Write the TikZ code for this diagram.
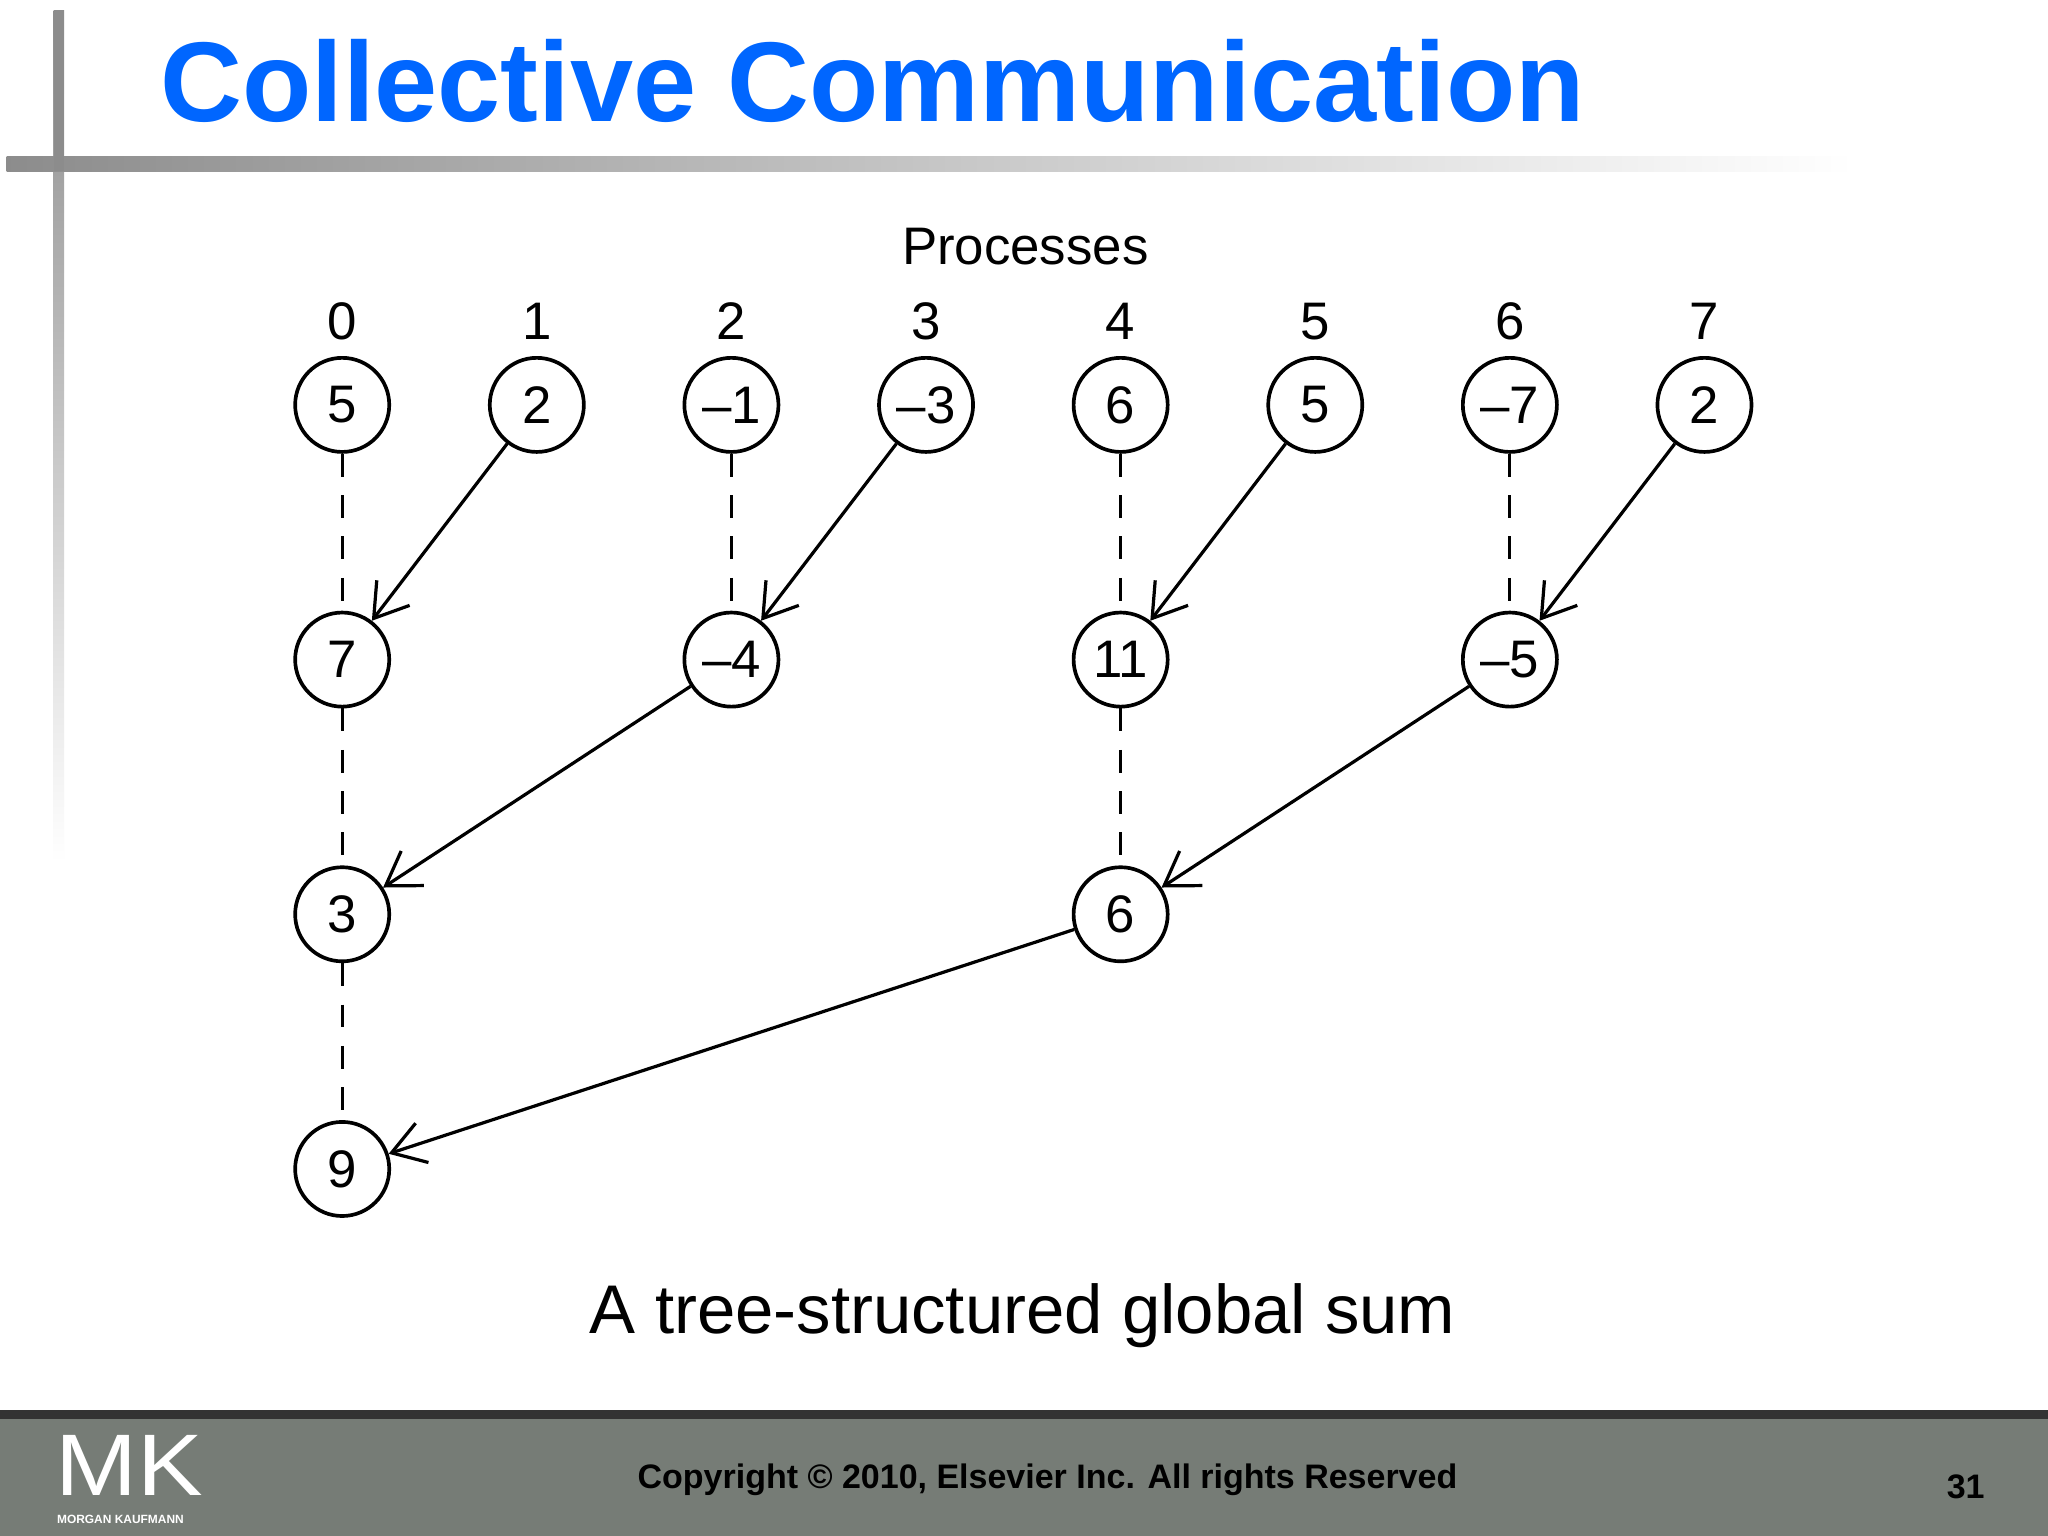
\documentclass[tikz,border=0pt]{standalone}
\usepackage{fontspec}
\setmainfont{Liberation Sans}
\usetikzlibrary{arrows.meta}
\definecolor{titleblue}{RGB}{0,102,255}
\definecolor{footgrey}{RGB}{118,124,118}
\begin{document}
\begin{tikzpicture}[x=0.01cm,y=-0.01cm,
  nd/.style={circle,draw,line width=0.8pt,minimum size=0.72cm,inner sep=0pt,font=\fontsize{11.5}{12}\selectfont},
  lbl/.style={font=\fontsize{11.5}{12}\selectfont},
  dsh/.style={line width=0.7pt,dash pattern=on 5pt off 4pt},
  arr/.style={line width=0.7pt,-{Straight Barb[length=7pt,width=9pt]}}]
\useasboundingbox (0,0) rectangle (1568,1176);
\fill[white] (0,0) rectangle (1568,1176);
% decorative bars
\shade[top color=gray!90,bottom color=white] (41,8) rectangle (49,660);
\shade[left color=gray!90,right color=white] (5,120) rectangle (1420,131);
\fill[gray!90] (41,8) rectangle (49,131);
\node[anchor=west,text=titleblue,font=\bfseries,inner sep=0] (title) at (122,62) {\resizebox{10.9cm}{!}{Collective Communication}};
% footer
\fill[footgrey] (0,1083) rectangle (1568,1176);
\draw[line width=2pt,black!80] (0,1083) -- (1568,1083);
\node[font=\bfseries\fontsize{7.4}{8}\selectfont] (copy) at (802,1133) {Copyright © 2010, Elsevier Inc. All rights Reserved};
\node[font=\bfseries\fontsize{7.4}{8}\selectfont] (pg) at (1505,1138) {31};
\node[text=white,inner sep=0,anchor=south west] (mk) at (42,1146) {\resizebox{1.13cm}{0.46cm}{MK}};
\node[text=white,font=\bfseries\fontsize{2.6}{3}\selectfont,inner sep=0,anchor=west] (mkt) at (43,1163) {MORGAN KAUFMANN};
% header labels
\node[lbl] (proc) at (785,189) {Processes};
\foreach \i/\x in {0/262,1/411,2/560,3/709,4/858,5/1007,6/1156,7/1305}
  \node[lbl] (p\i) at (\x,246) {\i};
% nodes
\node[nd] (a0) at (262,310) {5};
\node[nd] (a1) at (411,310) {2};
\node[nd] (a2) at (560,310) {–1};
\node[nd] (a3) at (709,310) {–3};
\node[nd] (a4) at (858,310) {6};
\node[nd] (a5) at (1007,310) {5};
\node[nd] (a6) at (1156,310) {–7};
\node[nd] (a7) at (1305,310) {2};
\node[nd] (b0) at (262,505) {7};
\node[nd] (b2) at (560,505) {–4};
\node[nd] (b4) at (858,505) {11};
\node[nd] (b6) at (1156,505) {–5};
\node[nd] (c0) at (262,700) {3};
\node[nd] (c4) at (858,700) {6};
\node[nd] (d0) at (262,895) {9};
% connectors
\foreach \u/\v in {a0/b0,a2/b2,a4/b4,a6/b6,b0/c0,b4/c4,c0/d0}
  \draw[dsh] (\u) -- (\v);
\foreach \u/\v in {a1/b0,a3/b2,a5/b4,a7/b6,b2/c0,b6/c4,c4/d0}
  \draw[arr] (\u) -- (\v);
% caption
\node[font=\fontsize{15}{16}\selectfont] (cap) at (783,1007) {A tree-structured global sum};
\end{tikzpicture}
\end{document}
